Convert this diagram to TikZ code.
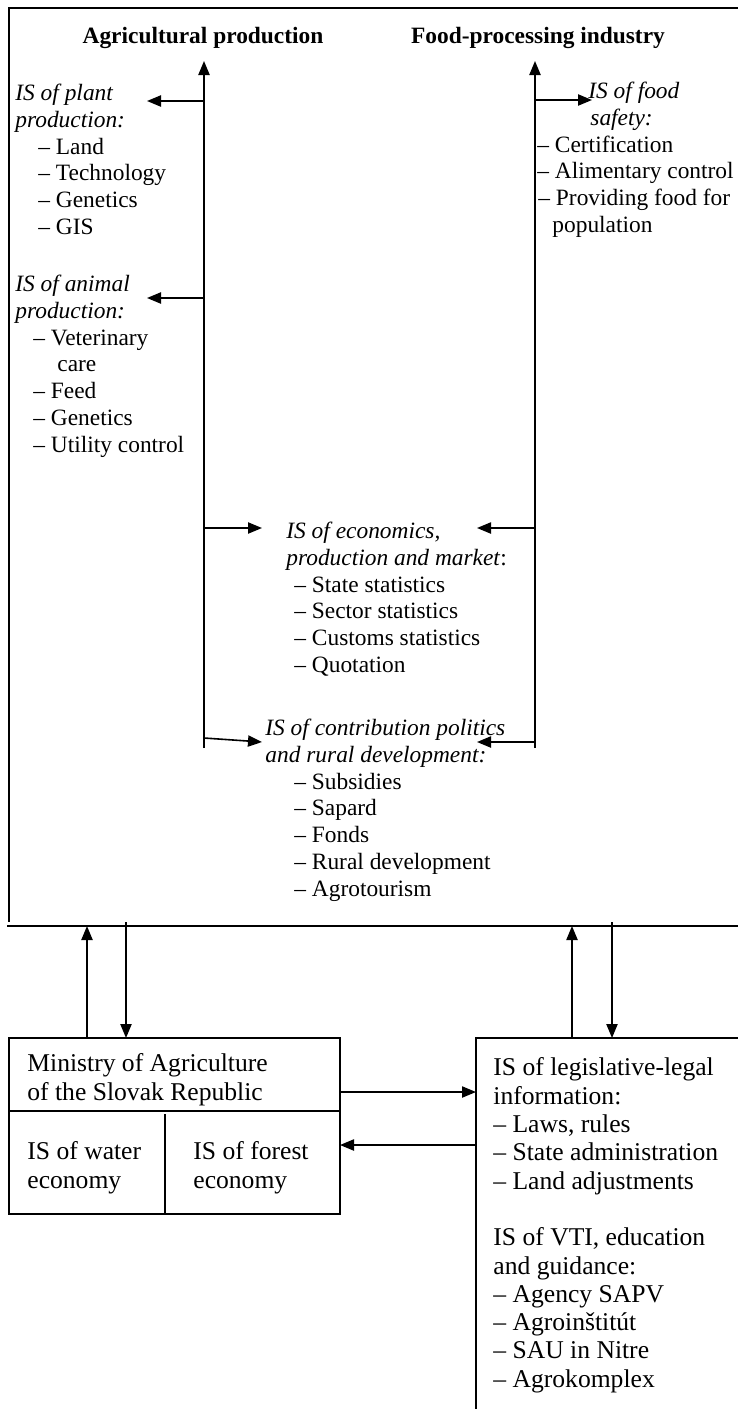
\documentclass[tikz,border=0pt]{standalone}
\usepackage{fontspec}
\setmainfont{Liberation Serif}
\usetikzlibrary{arrows.meta}

\begin{document}
\begin{tikzpicture}[x=0.5pt,y=-0.5pt]
\newcommand{\upsize}{\fontsize{11.7}{13.35}\selectfont}
\newcommand{\lowsize}{\fontsize{12.8}{14.15}\selectfont}
\tikzstyle{txt}=[inner sep=0pt,anchor=north west,align=left,font=\upsize]
\tikzstyle{lowtxt}=[txt,font=\lowsize]
\tikzstyle{head}=[inner sep=0pt,anchor=base,font=\upsize\bfseries]
\tikzstyle{line}=[line width=0.8pt]
\tikzstyle{arrow}=[line,-{Triangle[length=7pt,width=5.6pt]}]
\useasboundingbox (0,0) rectangle (738,1409);

% frame of the upper part
\draw[line] (738,8) -- (9,8) -- (9,922);
\draw[line] (7,926) -- (738,926);

\node[head] (agri) at (203,43) {Agricultural production};
\node[head] (food) at (538,43) {Food-processing industry};

% information systems
\node[txt] (plant) at (15,84) {\textit{IS of plant}\\\textit{production:}\\
  \hspace*{11.5pt}– Land\\\hspace*{11.5pt}– Technology\\
  \hspace*{11.5pt}– Genetics\\\hspace*{11.5pt}– GIS};
\node[txt] (animal) at (15,275) {\textit{IS of animal}\\\textit{production:}\\
  \hspace*{9pt}– Veterinary\\\hspace*{21pt}care\\\hspace*{9pt}– Feed\\
  \hspace*{9pt}– Genetics\\\hspace*{9pt}– Utility control};
\node[txt] (safety) at (537,82) {\hspace*{25.5pt}\textit{IS of food}\\
  \hspace*{26.5pt}\textit{safety:}\\– Certification\\– Alimentary control\\
  \hspace*{0.5pt}– Providing food for\\\hspace*{7.5pt}population};
\node[txt] (econ) at (286,522) {\textit{IS of economics,}\\\textit{production and market}:\\
  \hspace*{4pt}– State statistics\\\hspace*{4pt}– Sector statistics\\
  \hspace*{4pt}– Customs statistics\\\hspace*{4pt}– Quotation};
\node[txt] (contrib) at (265,719) {\textit{IS of contribution politics}\\
  \textit{and rural development:}\\\hspace*{14.5pt}– Subsidies\\
  \hspace*{14.5pt}– Sapard\\\hspace*{14.5pt}– Fonds\\
  \hspace*{14.5pt}– Rural development\\\hspace*{14.5pt}– Agrotourism};

% trunks
\coordinate (agtop) at (204,61);
\coordinate (agbot) at (204,748);
\coordinate (fdtop) at (535,61);
\coordinate (fdbot) at (535,748);
\draw[arrow] (agbot) -- (agtop);
\draw[arrow] (fdbot) -- (fdtop);

% branches
\coordinate (plantin) at (147,101);
\coordinate (animalin) at (147,298);
\coordinate (safetyin) at (592,100);
\coordinate (econl) at (262,528);
\coordinate (econr) at (477,528);
\coordinate (contribl) at (262,742);
\coordinate (contribr) at (477,742);
\draw[arrow] (agtop |- plantin) -- (plantin);
\draw[arrow] (agtop |- animalin) -- (animalin);
\draw[arrow] (fdtop |- safetyin) -- (safetyin);
\draw[arrow] (agtop |- econl) -- (econl);
\draw[arrow] (fdtop |- econr) -- (econr);
\draw[arrow] (204,738) -- (contribl);
\draw[arrow] (fdtop |- contribr) -- (contribr);

% ministry
\draw[line] (9,1038) rectangle (340,1214);
\draw[line] (9,1111) -- (340,1111);
\draw[line] (165,1114) -- (165,1214);
\node[lowtxt] (ministry) at (27,1053.5) {Ministry of Agriculture\\of the Slovak Republic};
\node[lowtxt] (water) at (27,1141.5) {IS of water\\economy};
\node[lowtxt] (forest) at (193,1141.5) {IS of forest\\economy};

% legislative box
\draw[line] (738,1038) -- (476,1038) -- (476,1409);
\node[lowtxt] (legal) at (493,1057.5) {IS of legislative-legal\\information:\\
  – Laws, rules\\– State administration\\– Land adjustments\\[14.15pt]
  IS of VTI, education\\and guidance:\\– Agency SAPV\\– Agroinštitút\\
  – SAU in Nitre\\– Agrokomplex};

% links between the parts
\coordinate (minup) at (87,1038);
\coordinate (mindown) at (126,1038);
\coordinate (legup) at (572,1038);
\coordinate (legdown) at (612,1038);
\coordinate (minout) at (340,1092);
\coordinate (legin) at (476,1092);
\coordinate (legout) at (476,1145);
\coordinate (minin) at (340,1145);
\draw[arrow] (minup) -- (87,926);
\draw[arrow] (126,922) -- (mindown);
\draw[arrow] (legup) -- (572,926);
\draw[arrow] (612,922) -- (legdown);
\draw[arrow] (minout) -- (legin);
\draw[arrow] (legout) -- (minin);
\end{tikzpicture}
\end{document}
